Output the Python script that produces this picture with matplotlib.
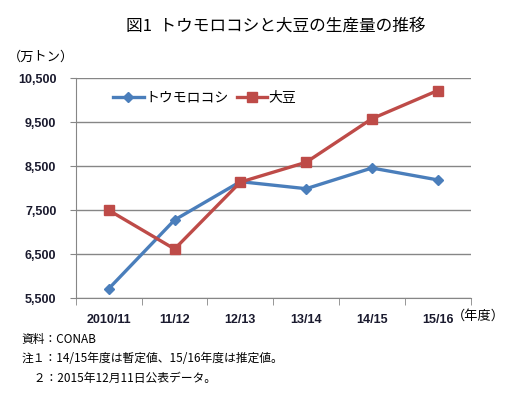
import matplotlib
matplotlib.use("Agg")
import matplotlib.pyplot as plt

plt.rcParams['font.family'] = ['Noto Sans CJK JP', 'DejaVu Sans']

# data (万トン)
seasons = ['2010/11', '11/12', '12/13', '13/14', '14/15', '15/16']
corn = [5720, 7280, 8150, 7990, 8460, 8190]
soy = [7500, 6620, 8140, 8590, 9580, 10220]
yticks = [5500, 6500, 7500, 8500, 9500, 10500]

fig = plt.figure(figsize=(5.2, 3.97), dpi=100)
ax = fig.add_axes([0.146, 0.2486, 0.759, 0.5544])

x = list(range(len(seasons)))
ax.plot(x, corn, color='#4A7EBB', lw=2.4, marker='D', ms=5, label='トウモロコシ', zorder=3)
ax.plot(x, soy, color='#BE4B48', lw=2.4, marker='s', ms=7.5, label='大豆', zorder=3)

ax.set_xlim(-0.5, len(seasons) - 0.5)
ax.set_ylim(5500, 10500)
ax.set_yticks(yticks)
ax.set_yticklabels([f'{v:,}' for v in yticks], fontsize=9, fontweight='bold',
                   family='Liberation Sans', color='#1a1a2e')
ax.set_xticks(x)
ax.set_xticklabels(seasons, fontsize=9, fontweight='bold',
                   family='Liberation Sans', color='#1a1a2e')
ax.set_xticks([i - 0.5 for i in range(len(seasons) + 1)], minor=True)
ax.tick_params(axis='x', which='major', length=0, pad=11)
ax.tick_params(axis='x', which='minor', length=5, color='#868686')
ax.tick_params(axis='y', length=4, color='#868686', pad=10)

ax.grid(axis='y', color='#868686', lw=1)
ax.set_axisbelow(True)
for s in ['top', 'right']:
    ax.spines[s].set_visible(False)
for s in ['left', 'bottom']:
    ax.spines[s].set_color('#868686')

ax.legend(loc='upper left', bbox_to_anchor=(0.08, 0.97), ncol=2, frameon=False,
          fontsize=10, handlelength=2.2, handletextpad=0.1, columnspacing=0.6,
          borderaxespad=0)

fig.text(0.53, 0.935, '図1  トウモロコシと大豆の生産量の推移', ha='center', va='center', fontsize=12)
fig.text(0.016, 0.856, '（万トン）', ha='left', va='center', fontsize=9.5)
fig.text(0.868, 0.204, '（年度）', ha='left', va='center', fontsize=9.5)

fig.text(0.042, 0.145, '資料：CONAB', ha='left', va='center', fontsize=8.5)
fig.text(0.042, 0.097, '注１：14/15年度は暫定値、15/16年度は推定値。', ha='left', va='center', fontsize=8.5)
fig.text(0.042, 0.048, '　２：2015年12月11日公表データ。', ha='left', va='center', fontsize=8.5)

fig.savefig('out.png', dpi=100)
